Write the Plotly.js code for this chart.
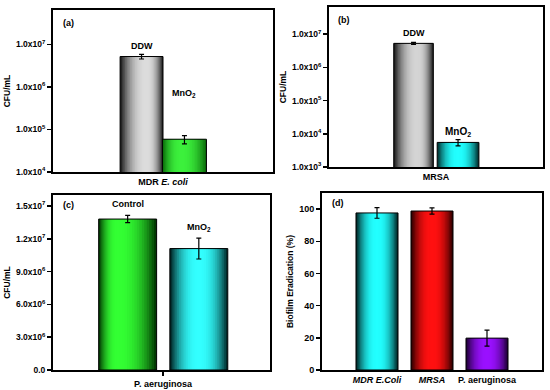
<!DOCTYPE html>
<html><head><meta charset="utf-8">
<script src="https://cdn.plot.ly/plotly-3.0.1.min.js"></script>
<style>html,body{margin:0;padding:0;background:#fff}#chart{width:550px;height:390px}</style>
</head><body><div id="chart"></div>
<script>
// ---- Data ----
// (a) MDR E. coli
const aCategory = ['MDR <i>E. coli</i>'];
const aLabels = ['DDW', 'MnO<sub>2</sub>'];
const aValues = [5.2e6, 5.9e4];
const aErrors = [0.65e6, 1.3e4];
// (b) MRSA
const bCategory = ['MRSA'];
const bLabels = ['DDW', 'MnO<sub>2</sub>'];
const bValues = [5.3e6, 5.5e3];
const bErrors = [0.35e6, 1.2e3];
// (c) P. aeruginosa
const cCategory = ['P. aeruginosa'];
const cLabels = ['Control', 'MnO<sub>2</sub>'];
const cValues = [1.38e7, 1.11e7];
const cErrors = [0.33e6, 0.95e6];
// (d) Biofilm eradication
const dCategories = ['<i>MDR E.Coli</i>', '<i>MRSA</i>', 'P. aeruginosa'];
const dValues = [97.6, 98.8, 19.8];
const dErrors = [3.3, 1.9, 5.0];
// tick labels
const aTickVals = [1e4, 1e5, 1e6, 1e7];
const aTickText = ['1.0x10<sup>4</sup>', '1.0x10<sup>5</sup>', '1.0x10<sup>6</sup>', '1.0x10<sup>7</sup>'];
const bTickVals = [1e3, 1e4, 1e5, 1e6, 1e7];
const bTickText = ['1.0x10<sup>3</sup>', '1.0x10<sup>4</sup>', '1.0x10<sup>5</sup>', '1.0x10<sup>6</sup>', '1.0x10<sup>7</sup>'];
const cTickVals = [0, 3e6, 6e6, 9e6, 1.2e7, 1.5e7];
const cTickText = ['0.0', '3.0x10<sup>6</sup>', '6.0x10<sup>6</sup>', '9.0x10<sup>6</sup>', '1.2x10<sup>7</sup>', '1.5x10<sup>7</sup>'];
const dTickVals = [0, 20, 40, 60, 80, 100];

// ---- Helpers ----
function hex(c){c=c.replace('#','');return [0,2,4].map(i=>parseInt(c.substr(i,2),16));}
function mix(a,b,t){const A=hex(a),B=hex(b);return 'rgb('+A.map((v,i)=>Math.round(v+(B[i]-v)*t)).join(',')+')';}

const traces = [];
function gradientBar(xa, ya, cat, value, err, center, width, dark, light, peak){
  const N = 16;
  const L = center - width/2, P = L + peak*width;
  for (let k = 0; k < N; k++){
    const s = 1 - k/N;
    const t = 1 - Math.pow(1 - k/(N-1), 2.2);
    traces.push({type:'bar', x:[cat], y:[value], xaxis:xa, yaxis:ya,
      offset: P - (P-L)*s, width: width*s,
      marker:{color: mix(dark, light, t), line:{width:0}},
      hoverinfo:'skip', showlegend:false});
  }
  traces.push({type:'bar', x:[cat], y:[value], xaxis:xa, yaxis:ya,
    offset: L, width: width,
    marker:{color:'rgba(0,0,0,0)', line:{color:'#000', width:1}},
    error_y:{type:'data', array:[err], visible:true, color:'#000', thickness:1.2, width:2.5},
    hoverinfo:'skip', showlegend:false});
}

// (a)
gradientBar('x','y', aCategory[0], aValues[0], aErrors[0], -0.0975, 0.195, '#1e1e1e', '#dcdcdc', 0.62);
gradientBar('x','y', aCategory[0], aValues[1], aErrors[1],  0.0975, 0.2,   '#0b6e0b', '#3cf03c', 0.42);
// (b)
gradientBar('x2','y2', bCategory[0], bValues[0], bErrors[0], -0.105, 0.185, '#1e1e1e', '#d4d4d4', 0.6);
gradientBar('x2','y2', bCategory[0], bValues[1], bErrors[1],  0.103, 0.195, '#003030', '#22ffff', 0.5);
// (c)
gradientBar('x3','y3', cCategory[0], cValues[0], cErrors[0], -0.163, 0.267, '#023a02', '#33ff33', 0.32);
gradientBar('x3','y3', cCategory[0], cValues[1], cErrors[1],  0.165, 0.267, '#002828', '#33ffff', 0.5);
// (d)
const dDark = ['#002828', '#300000', '#1e0036'];
const dLight = ['#22ffff', '#ff1010', '#9a10ff'];
dCategories.forEach((c,i)=>gradientBar('x4','y4', c, dValues[i], dErrors[i], 0, 0.764, dDark[i], dLight[i], 0.5));

const F = 'Liberation Sans, Arial, sans-serif';
const tf = {family:F, size:8.5, color:'#000', weight:'bold'};
function yax(domain, extra){
  return Object.assign({domain, anchor:extra.anchor, showline:true, mirror:true, linewidth:2, linecolor:'#000',
    ticks:'outside', ticklen:4, tickwidth:1.5, tickcolor:'#000', showgrid:false, zeroline:false,
    tickfont:tf, title:{text:extra.title, font:{family:F,size:8.5,color:'#000',weight:'bold'}, standoff:4}}, extra.more);
}
function xax(domain, anchor, more){
  return Object.assign({domain, anchor, type:'category', range:[-0.5,0.5], showline:true, mirror:true, linewidth:2, linecolor:'#000',
    ticks:'', showgrid:false, zeroline:false, tickfont:{family:F,size:9,color:'#000',weight:'bold'}}, more||{});
}

const lab = {family:F, size:9, color:'#000', weight:'bold'};
const annotations = [
  {xref:'x domain', yref:'y domain', x:0.035, y:0.96, text:'(a)', showarrow:false, xanchor:'left', yanchor:'top', font:lab},
  {xref:'x2 domain', yref:'y2 domain', x:0.035, y:0.96, text:'(b)', showarrow:false, xanchor:'left', yanchor:'top', font:lab},
  {xref:'x3 domain', yref:'y3 domain', x:0.035, y:0.985, text:'(c)', showarrow:false, xanchor:'left', yanchor:'top', font:lab},
  {xref:'x4 domain', yref:'y4 domain', x:0.035, y:0.985, text:'(d)', showarrow:false, xanchor:'left', yanchor:'top', font:lab},
  {xref:'x', yref:'y', x:-0.0975, y:Math.log10(aValues[0]), text:aLabels[0], showarrow:false, yanchor:'bottom', yshift:4, font:lab},
  {xref:'x', yref:'y', x:0.0975, y:Math.log10(aValues[1]), text:aLabels[1], showarrow:false, yanchor:'bottom', yshift:38, font:lab},
  {xref:'x2', yref:'y2', x:-0.105, y:Math.log10(bValues[0]), text:bLabels[0], showarrow:false, yanchor:'bottom', yshift:3, font:lab},
  {xref:'x2', yref:'y2', x:0.103, y:Math.log10(bValues[1]), text:bLabels[1], showarrow:false, yanchor:'bottom', yshift:2, font:{family:F,size:10,color:'#000',weight:'bold'}},
  {xref:'x3', yref:'y3', x:-0.163, y:cValues[0], text:cLabels[0], showarrow:false, yanchor:'bottom', yshift:8, font:lab},
  {xref:'x3', yref:'y3', x:0.165, y:cValues[1], text:cLabels[1], showarrow:false, yanchor:'bottom', yshift:14, font:lab}
];

const layout = {
  width:550, height:390, margin:{l:0,r:0,t:0,b:0}, paper_bgcolor:'#fff', plot_bgcolor:'#fff',
  barmode:'overlay', showlegend:false,
  xaxis: xax([53/550, 273/550], 'y'),
  yaxis: yax([1-172/390, 1-10/390], {anchor:'x', title:'CFU/mL', more:{type:'log', range:[4, 7.81], tickvals:aTickVals, ticktext:aTickText}}),
  xaxis2: xax([329/550, 543/550], 'y2'),
  yaxis2: yax([1-167/390, 1-7/390], {anchor:'x2', title:'CFU/mL', more:{type:'log', range:[3, 7.82], tickvals:bTickVals, ticktext:bTickText}}),
  xaxis3: xax([53/550, 270/550], 'y3', {range:[-0.507, 0.493], ticks:'outside', ticklen:4, tickwidth:1.5, tickcolor:'#000'}),
  yaxis3: yax([1-370/390, 1-195/390], {anchor:'x3', title:'CFU/mL', more:{range:[0, 1.6e7], tickvals:cTickVals, ticktext:cTickText}}),
  xaxis4: xax([322/550, 542/550], 'y4', {range:[-1, 3]}),
  yaxis4: yax([1-370/390, 1-193/390], {anchor:'x4', title:'Biofilm Eradication (%)', more:{range:[0, 110], tickvals:dTickVals, tickfont:{family:F,size:9,color:'#000',weight:'bold'}}}),
  annotations
};
Plotly.newPlot('chart', traces, layout, {staticPlot:true, displayModeBar:false});
</script></body></html>
